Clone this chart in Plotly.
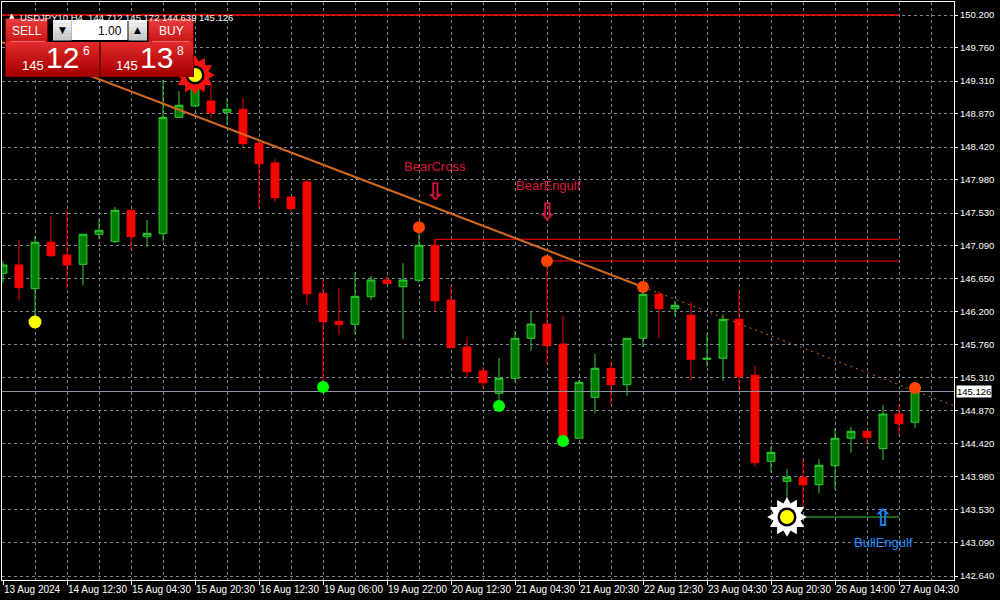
import plotly.graph_objects as go

# ---------------- data ----------------
bar_index = list(range(58))
opens = [146.719, 146.831, 146.512, 147.137, 146.966, 146.840, 147.245, 147.145, 147.568, 147.212,
         147.253, 148.821, 148.974, 149.041, 148.889, 148.929, 148.471, 148.206, 147.747, 147.950,
         146.450, 146.072, 146.032, 146.404, 146.629, 146.539, 146.625, 147.097, 146.359, 145.726,
         145.403, 145.102, 145.304, 145.843, 146.036, 145.766, 144.496, 145.048, 145.439, 145.218,
         145.843, 146.436, 146.242, 146.153, 145.560, 145.574, 146.099, 145.345, 144.186, 143.916,
         143.970, 143.870, 144.126, 144.496, 144.590, 144.356, 144.823, 144.712]
highs = [146.885, 147.168, 147.222, 147.491, 147.572, 147.250, 147.447, 147.613, 147.575, 147.437,
         149.324, 149.176, 149.378, 149.257, 149.077, 149.086, 148.502, 148.259, 147.750, 147.986,
         146.629, 146.521, 146.733, 146.683, 146.683, 146.854, 147.330, 147.177, 146.548, 145.861,
         145.457, 145.578, 145.942, 146.207, 146.885, 146.148, 145.281, 145.632, 145.528, 145.843,
         146.535, 146.481, 146.350, 146.332, 145.897, 146.167, 146.485, 145.470, 144.382, 144.082,
         144.217, 144.217, 144.630, 144.652, 144.590, 144.944, 144.958, 145.172]
lows = [146.588, 146.350, 146.144, 146.943, 146.508, 146.552, 147.177, 147.128, 147.033, 147.078,
        147.154, 148.816, 148.970, 148.812, 148.718, 148.425, 147.586, 147.684, 147.549, 146.292,
        145.214, 145.888, 145.897, 146.359, 146.584, 145.830, 146.598, 146.211, 145.717, 145.322,
        145.169, 144.998, 145.250, 145.676, 145.493, 144.473, 144.496, 144.833, 144.954, 145.070,
        145.726, 145.851, 146.144, 145.272, 145.461, 145.272, 145.124, 144.113, 144.032, 143.502,
        143.566, 143.749, 143.799, 144.302, 144.436, 144.203, 144.550, 144.639]
closes = [146.831, 146.525, 147.137, 146.956, 146.831, 147.245, 147.299, 147.568, 147.212, 147.258,
          148.821, 148.983, 149.234, 148.883, 148.929, 148.466, 148.196, 147.738, 147.590, 146.444,
          146.067, 146.027, 146.409, 146.629, 146.584, 146.629, 147.097, 146.350, 145.717, 145.393,
          145.245, 145.304, 145.843, 146.036, 145.744, 144.517, 145.250, 145.439, 145.218, 145.843,
          146.436, 146.242, 146.288, 145.560, 145.574, 146.099, 145.326, 144.167, 144.307, 143.970,
          143.870, 144.132, 144.496, 144.590, 144.509, 144.823, 144.692, 145.126]

time_tick_index = [0, 4, 8, 12, 16, 20, 24, 28, 32, 36, 40, 44, 48, 52, 56]
time_tick_labels = ["13 Aug 2024", "14 Aug 12:30", "15 Aug 04:30", "15 Aug 20:30", "16 Aug 12:30",
                    "19 Aug 06:00", "19 Aug 22:00", "20 Aug 12:30", "21 Aug 04:30", "21 Aug 20:30",
                    "22 Aug 12:30", "23 Aug 04:30", "23 Aug 20:30", "26 Aug 14:00", "27 Aug 04:30"]
price_ticks = [150.200, 149.760, 149.310, 148.870, 148.420, 147.980, 147.530, 147.090, 146.650,
               146.200, 145.760, 145.310, 144.870, 144.420, 143.980, 143.530, 143.090, 142.640]
price_tick_labels = ["150.200", "149.760", "149.310", "148.870", "148.420", "147.980", "147.530",
                     "147.090", "146.650", "146.200", "145.760", "145.310", "144.870", "144.420",
                     "143.980", "143.530", "143.090", "142.640"]

symbol_name = "USDJPY10,H4"
last_ohlc = [144.712, 145.172, 144.639, 145.126]
bid_price = 145.126
sell_parts = ["145", "12", "6"]
buy_parts = ["145", "13", "8"]
lot_size = "1.00"

yellow_dot_index = [2]
yellow_dot_price = [146.063]
green_dot_index = [20, 31, 35]
green_dot_price = [145.187, 144.931, 144.459]
orange_dot_index = [26, 34, 40, 57]
orange_dot_price = [147.339, 146.885, 146.535, 145.172]
sun_bear_index = [12]
sun_bear_price = [149.391]
sun_bull_index = [49]
sun_bull_price = [143.435]

trend_index = [0, 40]
trend_price = [149.830, 146.535]

top_level_price = 150.200
level_end_index = 56
bearcross_line_index = [27, 27, 56]
bearcross_line_price = [147.097, 147.177, 147.177]
bearengulf_line_index = [34, 56]
bearengulf_line_price = [146.885, 146.885]
bullengulf_line_index = [49, 56]
bullengulf_line_price = [143.435, 143.435]

signal_texts = ["BearCross", "BearEngulf", "BullEngulf"]
signal_text_index = [27, 34.1, 55]
signal_text_price = [148.152, 147.896, 143.085]
signal_arrow_chars = ["\u21e9", "\u21e9", "\u21e7"]
signal_arrow_index = [27, 34, 55]
signal_arrow_price = [147.815, 147.545, 143.422]
signal_colors = ["#DC143C", "#DC143C", "#1E90FF"]

# ---------------- layout geometry ----------------
W, H = 1000, 600
ML, MR, MT, MB = 2, 46, 2, 20
PW, PH = W - ML - MR, H - MT - MB
X_RANGE = [-0.0625, 59.4375]
Y_RANGE = [142.5861, 150.3752]
FONT = "Liberation Sans, Arial, sans-serif"
GRID = "#778899"


def px(xp):
    return (xp - ML) / PW


def py(yp):
    return (MT + PH - yp) / PH


fig = go.Figure()

# candles
fig.add_trace(go.Candlestick(
    x=bar_index, open=opens, high=highs, low=lows, close=closes,
    increasing=dict(line=dict(color="#32CD32", width=1), fillcolor="#008000"),
    decreasing=dict(line=dict(color="#FF0000", width=1), fillcolor="#FF0000"),
    whiskerwidth=0, showlegend=False, hoverinfo="skip"))

# bid line
fig.add_trace(go.Scatter(x=X_RANGE, y=[bid_price, bid_price], mode="lines",
                         line=dict(color="#8E99A6", width=1), showlegend=False, hoverinfo="skip"))

# horizontal level lines
fig.add_trace(go.Scatter(x=[X_RANGE[0], level_end_index], y=[top_level_price, top_level_price],
                         mode="lines", line=dict(color="#FF0000", width=1.5),
                         showlegend=False, hoverinfo="skip"))
fig.add_trace(go.Scatter(x=bearcross_line_index, y=bearcross_line_price, mode="lines",
                         line=dict(color="#FF0000", width=1), showlegend=False, hoverinfo="skip"))
fig.add_trace(go.Scatter(x=bearengulf_line_index, y=bearengulf_line_price, mode="lines",
                         line=dict(color="#FF0000", width=1), showlegend=False, hoverinfo="skip"))
fig.add_trace(go.Scatter(x=bullengulf_line_index, y=bullengulf_line_price, mode="lines",
                         line=dict(color="#32CD32", width=1), showlegend=False, hoverinfo="skip"))

# trend line (solid between anchors, extended left; dotted to the right)
slope = (trend_price[1] - trend_price[0]) / (trend_index[1] - trend_index[0])
left_y = trend_price[0] + slope * (X_RANGE[0] - trend_index[0])
right_y = trend_price[1] + slope * (X_RANGE[1] - trend_index[1])
fig.add_trace(go.Scatter(x=[X_RANGE[0], trend_index[1]], y=[left_y, trend_price[1]], mode="lines",
                         line=dict(color="#D2691E", width=2), showlegend=False, hoverinfo="skip"))
fig.add_trace(go.Scatter(x=[trend_index[1], X_RANGE[1]], y=[trend_price[1], right_y], mode="lines",
                         line=dict(color="#D2691E", width=1, dash="2px,4px"),
                         showlegend=False, hoverinfo="skip"))

# dots
fig.add_trace(go.Scatter(x=yellow_dot_index, y=yellow_dot_price, mode="markers",
                         marker=dict(color="#FFFF00", size=13, line=dict(width=0)),
                         showlegend=False, hoverinfo="skip"))
fig.add_trace(go.Scatter(x=green_dot_index, y=green_dot_price, mode="markers",
                         marker=dict(color="#00FF00", size=12, line=dict(width=0)),
                         showlegend=False, hoverinfo="skip"))
fig.add_trace(go.Scatter(x=orange_dot_index, y=orange_dot_price, mode="markers",
                         marker=dict(color="#FF4500", size=12, line=dict(width=0)),
                         showlegend=False, hoverinfo="skip"))

# suns
for idx, pr, star_col in [(sun_bear_index, sun_bear_price, "#FF1010"),
                          (sun_bull_index, sun_bull_price, "#FFFFFF")]:
    for ang in (0, 30):
        fig.add_trace(go.Scatter(x=idx, y=pr, mode="markers",
                                 marker=dict(symbol="hexagram", color=star_col, size=30, angle=ang,
                                             line=dict(width=0)),
                                 showlegend=False, hoverinfo="skip"))
    fig.add_trace(go.Scatter(x=idx, y=pr, mode="markers",
                             marker=dict(color="#000000", size=19, line=dict(width=0)),
                             showlegend=False, hoverinfo="skip"))
    fig.add_trace(go.Scatter(x=idx, y=pr, mode="markers",
                             marker=dict(color="#FFFF00", size=14, line=dict(width=0)),
                             showlegend=False, hoverinfo="skip"))

annotations = []
# signal texts and arrows
for t, xi, yi, c in zip(signal_texts, signal_text_index, signal_text_price, signal_colors):
    annotations.append(dict(x=xi, y=yi, xref="x", yref="y", text=t, showarrow=False,
                            font=dict(family=FONT, size=13, color=c)))
for t, xi, yi, c in zip(signal_arrow_chars, signal_arrow_index, signal_arrow_price, signal_colors):
    annotations.append(dict(x=xi, y=yi, xref="x", yref="y", text="<b>" + t + "</b>",
                            showarrow=False,
                            font=dict(family="DejaVu Sans", size=24, color=c)))

# bid label on the price scale
annotations.append(dict(x=1, y=bid_price, xref="paper", yref="y", xanchor="left", xshift=2,
                        text=f"{bid_price:.3f}", showarrow=False, bgcolor="#FFFFFF",
                        borderpad=0, font=dict(family=FONT, size=9.5, color="#000000")))

# header
annotations.append(dict(x=px(7), y=py(10), xref="paper", yref="paper", text="\u25b2",
                        showarrow=False, font=dict(family="DejaVu Sans", size=7, color="#FFFFFF")))
annotations.append(dict(x=px(18), y=py(10.5), xref="paper", yref="paper", xanchor="left",
                        text=f"{symbol_name}  " + " ".join(f"{v:.3f}" for v in last_ohlc),
                        showarrow=False, font=dict(family=FONT, size=9.5, color="#FFFFFF")))

# ---------------- one-click trading panel ----------------
shapes = []


def rect(x0, y0, x1, y1, fill, line=None, lw=0):
    shapes.append(dict(type="rect", xref="paper", yref="paper", layer="above",
                       x0=px(x0), x1=px(x1), y0=py(y1), y1=py(y0), fillcolor=fill,
                       line=dict(color=line or fill, width=lw)))


def grad_rect(x0, y0, x1, y1, c0, c1, n=10):
    def hx(c):
        return [int(c[i:i + 2], 16) for i in (1, 3, 5)]
    a, b = hx(c0), hx(c1)
    h = (y1 - y0) / n
    for i in range(n):
        t = i / (n - 1)
        col = "#%02X%02X%02X" % tuple(int(a[k] + (b[k] - a[k]) * t) for k in range(3))
        rect(x0, y0 + i * h, x1, y0 + (i + 1) * h + 0.5, col)


# panel frames
rect(5, 18, 48, 44, "#7A0000")
rect(5, 41, 100, 77, "#7A0000")
rect(148, 18, 194, 44, "#7A0000")
rect(100, 41, 194, 77, "#7A0000")
grad_rect(6, 19, 47, 42, "#E53A3A", "#CC1A1A", 6)
grad_rect(6, 42, 99, 76, "#E02A2A", "#A80000", 12)
grad_rect(149, 19, 193, 42, "#E53A3A", "#CC1A1A", 6)
grad_rect(101, 42, 193, 76, "#E02A2A", "#A80000", 12)
# separators under SELL / BUY
rect(10, 41.3, 45, 42, "#F08080")
rect(152, 41.3, 190, 42, "#F08080")
# lot controls
rect(49, 18, 148, 42, "#000000")
grad_rect(53, 20, 71.5, 40, "#F4F4F4", "#C8C8C8", 6)
rect(71.5, 20, 127.5, 40, "#FFFFFF")
grad_rect(128.5, 20, 147, 40, "#F4F4F4", "#C8C8C8", 6)

panel_text = [
    ("SELL", 27, 31, 12, "#FFFFFF", "center", FONT),
    ("BUY", 171, 31, 12, "#FFFFFF", "center", FONT),
    ("\u25bc", 62, 30, 9, "#000000", "center", "DejaVu Sans"),
    ("\u25b2", 137.5, 30, 9, "#000000", "center", "DejaVu Sans"),
    (lot_size, 124, 30.5, 12, "#000000", "right", FONT),
    (sell_parts[0], 33, 65, 13, "#FFFFFF", "center", FONT),
    (sell_parts[1], 62.5, 57.5, 30, "#FFFFFF", "center", FONT),
    (sell_parts[2], 86.5, 51, 12, "#FFFFFF", "center", FONT),
    (buy_parts[0], 126.7, 65, 13, "#FFFFFF", "center", FONT),
    (buy_parts[1], 156.7, 57.5, 30, "#FFFFFF", "center", FONT),
    (buy_parts[2], 180, 51, 12, "#FFFFFF", "center", FONT),
]
for t, x, y, s, c, anc, fam in panel_text:
    annotations.append(dict(x=px(x), y=py(y), xref="paper", yref="paper", text=t, xanchor=anc,
                            yanchor="middle", showarrow=False,
                            font=dict(family=fam, size=s, color=c)))

fig.update_layout(
    width=W, height=H,
    margin=dict(l=ML, r=MR, t=MT, b=MB, pad=0, autoexpand=False),
    paper_bgcolor="#000000", plot_bgcolor="#000000",
    showlegend=False,
    font=dict(family=FONT, size=9.5, color="#FFFFFF"),
    shapes=shapes, annotations=annotations,
    xaxis=dict(range=X_RANGE, tickmode="array", tickvals=time_tick_index, ticktext=time_tick_labels,
               tickangle=0, automargin=False,
               ticks="outside", ticklen=4, tickcolor="#FFFFFF", ticklabelposition="outside right",
               showgrid=True, gridcolor=GRID, griddash="3px,3px", gridwidth=1,
               minor=dict(tick0=0, dtick=2, showgrid=True, gridcolor=GRID, griddash="3px,3px",
                          gridwidth=1),
               showline=True, linecolor="#FFFFFF", linewidth=1, mirror=True, zeroline=False,
               rangeslider=dict(visible=False),
               tickfont=dict(family=FONT, size=10, color="#FFFFFF")),
    yaxis=dict(range=Y_RANGE, side="right", tickmode="array", tickvals=price_ticks,
               ticktext=price_tick_labels, ticks="outside", ticklen=3, tickcolor="#FFFFFF",
               automargin=False,
               showgrid=True, gridcolor=GRID, griddash="3px,3px", gridwidth=1,
               showline=True, linecolor="#FFFFFF", linewidth=1, mirror=True, zeroline=False,
               tickfont=dict(family=FONT, size=9.5, color="#FFFFFF")),
)

fig.write_html("out.html", config={"displayModeBar": False},
               post_script="document.body.style.margin='0';")
